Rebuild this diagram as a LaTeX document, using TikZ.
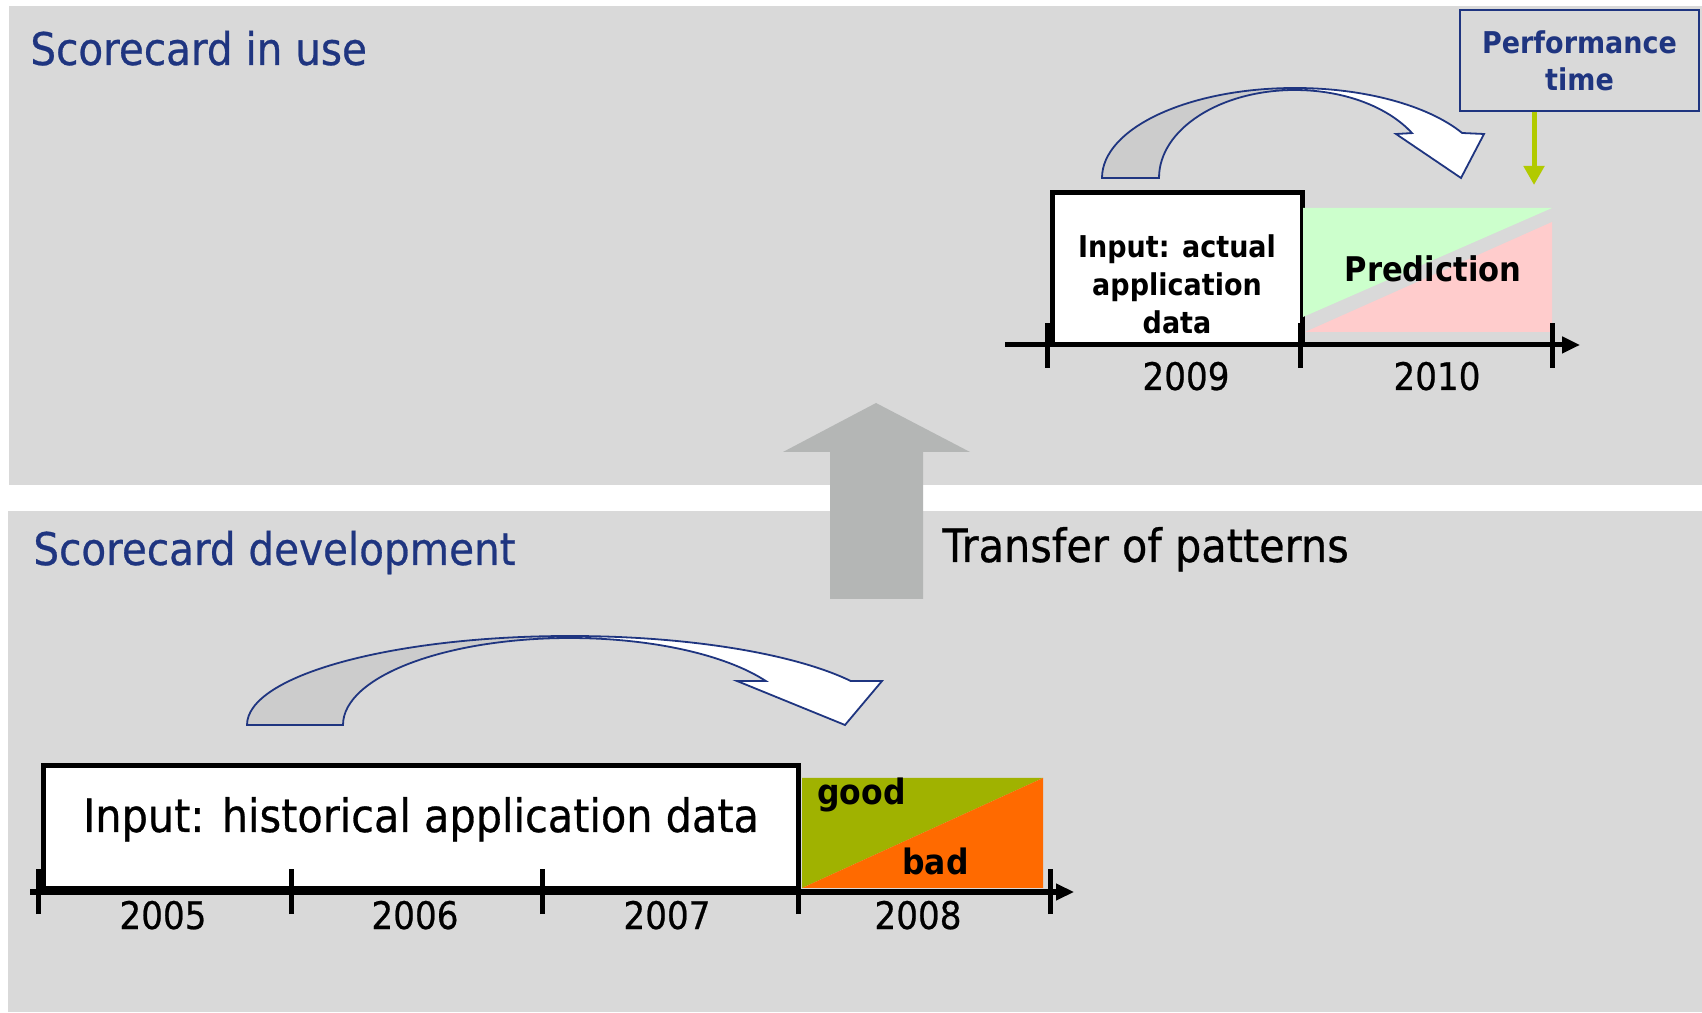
\documentclass[tikz,border=0pt]{standalone}
\usepackage{fontspec}
\setmainfont{DejaVu Sans}[FakeStretch=0.9, UprightFeatures={FakeBold=0.6}]
\usepackage{tikz}
\usetikzlibrary{arrows.meta,positioning}
\definecolor{panelgray}{RGB}{217,217,217}
\definecolor{scnavy}{RGB}{31,53,128}
\definecolor{bandgray}{RGB}{204,204,204}
\definecolor{transgray}{RGB}{180,182,181}
\definecolor{goodgreen}{RGB}{160,178,0}
\definecolor{badorange}{RGB}{255,106,0}
\definecolor{predgreen}{RGB}{204,255,204}
\definecolor{predpink}{RGB}{255,204,204}
\definecolor{perfgreen}{RGB}{178,202,0}
\tikzset{
  panel/.style={fill=panelgray, draw=none},
  ptitle/.style={anchor=base west, inner sep=0pt, text=scnavy,
                 font=\fontsize{22.5}{27}\selectfont},
  tline/.style={line width=2.5pt, -{Triangle[length=9pt,width=8pt]}},
  ttick/.style={line width=2.5pt},
  yearlbl/.style={anchor=base, inner sep=0pt, font=\fontsize{19}{22}\selectfont},
  inbox/.style={draw=black, fill=white, line width=2.5pt, inner sep=0pt},
  bandback/.style={fill=bandgray, draw=scnavy, line width=0.9pt},
  bandfront/.style={fill=white, draw=scnavy, line width=0.9pt},
  boldlbl/.style={inner sep=0pt, font=\bfseries\fontsize{17.5}{21}\selectfont},
}

\begin{document}
\begin{tikzpicture}[x=0.5pt, y=0.5pt,
    perfbox/.style={draw=scnavy, line width=0.7pt, minimum width=119.5pt,
                    minimum height=50.5pt, inner sep=0pt, align=center, text=scnavy,
                    font=\bfseries\fontsize{15}{18.5}\selectfont},
    perfarrow/.style={draw=perfgreen, line width=2.5pt,
                      -{Triangle[length=9.5pt,width=10pt]}}]
  \useasboundingbox (0,0) rectangle (1702,1012);
  \fill[white] (0,0) rectangle (1702,1012);
  % panels
  \fill[panel] (9,527) rectangle (1702,1006);
  \fill[panel] (8,0) rectangle (1702,501);
  \node[ptitle] (usetitle) at (30,947) {Scorecard in use};
  \node[ptitle] (devtitle) at (33,447) {Scorecard development};

  % transfer of patterns
  \fill[transgray] (830,413) -- (830,560) -- (783,560) -- (876,609)
                   -- (970,560) -- (923,560) -- (923,413) -- cycle;
  \node[anchor=base west, inner sep=0pt, font=\fontsize{23}{27}\selectfont]
       (transfer) at (942,450) {Transfer of patterns};

  % development timeline
  \node[inbox, minimum width=377.5pt, minimum height=61.5pt] (histbox) at (420.5,184.5) {};
  \node[anchor=base, inner sep=0pt, font=\fontsize{23}{27}\selectfont]
       (histtxt) at (421,180) {Input: historical application data};
  \fill[goodgreen] (802,124) -- (802,234) -- (1043,234) -- cycle;
  \fill[badorange] (802,124) -- (1043,234) -- (1043,124) -- cycle;
  \node[boldlbl, anchor=base west] (good) at (817,207) {good};
  \node[boldlbl, anchor=base west] (bad) at (902,137) {bad};
  \coordinate (devstart) at (30,120);
  \coordinate (devend) at (1074,120);
  \draw[tline] (devstart) -- (devend);
  \foreach \x in {38.6,291,542,798,1050}
    \draw[ttick] (\x,98) -- (\x,143);
  \foreach \x/\yr in {163/2005,415/2006,667/2007,918/2008}
    \node[yearlbl] (y\yr) at (\x,83) {\yr};

  % curved arrow, development
  \begin{scope}[shift={(570,287)}]
    \draw[bandback] (-323,0) arc[start angle=180, end angle=90, x radius=161.5pt, y radius=44.5pt]
      -- (0,87) arc[start angle=90, end angle=180, x radius=113.5pt, y radius=43.5pt] -- cycle;
    \draw[bandfront] (0,89) arc[start angle=90, end angle=29.6, x radius=161.5pt, y radius=44.5pt]
      -- (312,44) -- (275,0) -- (167,44) -- (195.8,44)
      arc[start angle=30.4, end angle=90, x radius=113.5pt, y radius=43.5pt] -- cycle;
  \end{scope}

  % usage timeline
  \node[inbox, minimum width=125pt, minimum height=76pt] (actbox) at (1177,743) {};
  \node[align=center, inner sep=0pt, font=\bfseries\fontsize{15}{19}\selectfont]
       (acttxt) at (1177,728) {Input: actual\\application\\data};
  \fill[predgreen] (1303,804) -- (1552,804) -- (1303,695) -- cycle;
  \fill[predpink] (1305,680) -- (1552,790) -- (1552,680) -- cycle;
  \node[boldlbl, anchor=base, font=\bfseries\fontsize{17}{21}\selectfont]
       (predict) at (1433,730) {Prediction};
  \coordinate (usestart) at (1005,667);
  \coordinate (useend) at (1580,667);
  \draw[tline] (usestart) -- (useend);
  \foreach \x in {1047,1300,1552}
    \draw[ttick] (\x,644) -- (\x,689);
  \foreach \x/\yr in {1186/2009,1437/2010}
    \node[yearlbl] (y\yr) at (\x,622) {\yr};

  % curved arrow, usage
  \begin{scope}[shift={(1295,834)}]
    \draw[bandback] (-193,0) arc[start angle=180, end angle=90, x radius=96.5pt, y radius=45pt]
      -- (0,88) arc[start angle=90, end angle=180, x radius=68pt, y radius=44pt] -- cycle;
    \draw[bandfront] (0,90) arc[start angle=90, end angle=30, x radius=96.5pt, y radius=45pt]
      -- (189,44) -- (166,0) -- (101,44) -- (117,44.9)
      arc[start angle=30.7, end angle=90, x radius=68pt, y radius=44pt] -- cycle;
  \end{scope}

  % performance time
  \node[perfbox] (perf) at (1579.5,951.5) {Performance\\time};
  \coordinate (perftip) at (1534,827);
  \draw[perfarrow] (perf.south -| perftip) -- (perftip);
\end{tikzpicture}
\end{document}
